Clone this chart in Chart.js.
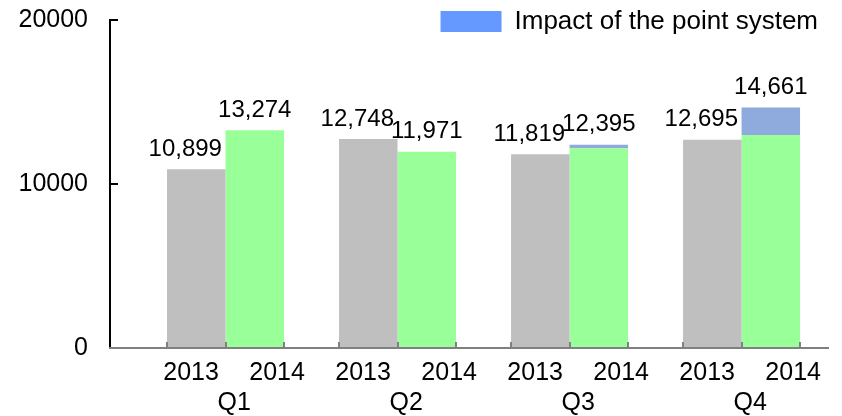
<!DOCTYPE html>
<html>
<head>
<meta charset="utf-8">
<script src="https://cdn.jsdelivr.net/npm/chart.js@4.4.1/dist/chart.umd.min.js"></script>
<style>
  html, body { margin: 0; padding: 0; background: #ffffff; }
  #wrap { width: 842px; height: 416px; position: relative; }
</style>
</head>
<body>
<div id="wrap"><canvas id="c"></canvas></div>
<script>
// ---- data ----
const quarters = ['Q1', 'Q2', 'Q3', 'Q4'];
const years = ['2013', '2014'];
const sales2013 = [10899, 12748, 11819, 12695];
const base2014 = [13274, 11971, 12180, 12990];
const impact2014 = [0, 0, 215, 1671];
const yTicks = [0, 10000, 20000];
const legendLabel = 'Impact of the point system';

// ---- style ----
const FONT = "'Liberation Sans', Arial, Helvetica, sans-serif";
const GROUP = 0.68;            // categoryPercentage
const X_MIN = 0.3285, X_MAX = 4.5025;
const YEAR_LABEL_HALF = 0.25;  // year labels sit in half-quarter slots
const LABEL_SLOT_SHIFT = 0.05; // slot grid is nudged right of the bars
const LABEL_SHIFT_2013 = -11;
const LABEL_RAISE = 20;
const LEGEND_RAISE = 21.5;

const pos = quarters.map((q, i) => i + 1);
const pts = arr => arr.map((v, i) => ({ x: pos[i], y: v }));
const fmt = v => v.toLocaleString('en-US');

// tick list for the label axis: bar edges carry tick marks, slots carry labels
const xlTicks = [];
pos.forEach((p, i) => {
  const half = GROUP / 2;
  xlTicks.push({ value: p - half, label: '', mark: true });
  xlTicks.push({ value: p - YEAR_LABEL_HALF + LABEL_SLOT_SHIFT, label: years[0], mark: false });
  xlTicks.push({ value: p, label: '', mark: true });
  xlTicks.push({ value: p + LABEL_SLOT_SHIFT, label: ['', quarters[i]], mark: false });
  xlTicks.push({ value: p + YEAR_LABEL_HALF + LABEL_SLOT_SHIFT, label: years[1], mark: false });
  xlTicks.push({ value: p + half, label: '', mark: true });
});
xlTicks.sort((a, b) => a.value - b.value);

const valueLabels = {
  id: 'valueLabels',
  afterDatasetsDraw(chart) {
    const ctx = chart.ctx;
    const m0 = chart.getDatasetMeta(0);
    const m2 = chart.getDatasetMeta(2);
    ctx.save();
    ctx.font = '24px ' + FONT;
    ctx.fillStyle = '#000000';
    ctx.textAlign = 'center';
    ctx.textBaseline = 'middle';
    quarters.forEach((q, i) => {
      const a = m0.data[i];
      ctx.fillText(fmt(sales2013[i]), a.x + LABEL_SHIFT_2013, a.y - LABEL_RAISE);
      const b = m2.data[i];
      ctx.fillText(fmt(base2014[i] + impact2014[i]), b.x, b.y - LABEL_RAISE);
    });
    ctx.restore();
  }
};

const legendPlace = {
  id: 'legendPlace',
  afterLayout(chart) {
    const lg = chart.legend, ca = chart.chartArea;
    if (!lg) return;
    const w = lg.width, h = lg.height;
    lg.left = ca.right - w; lg.right = ca.right;
    lg.top = ca.top - LEGEND_RAISE; lg.bottom = lg.top + h;
  }
};

Chart.defaults.font.family = FONT;
Chart.defaults.color = '#000000';

new Chart(document.getElementById('c'), {
  type: 'bar',
  data: {
    datasets: [
      { label: years[0], data: pts(sales2013), backgroundColor: '#BFBFBF', stack: 'a' },
      { label: years[1], data: pts(base2014), backgroundColor: '#99FF99', stack: 'b' },
      { label: legendLabel, data: pts(impact2014), backgroundColor: '#8FAADC', stack: 'b' }
    ]
  },
  options: {
    responsive: true,
    maintainAspectRatio: false,
    animation: false,
    events: [],
    datasets: { bar: { barPercentage: 1, categoryPercentage: GROUP, borderWidth: 0 } },
    layout: { padding: { top: 20, right: 14, left: 0, bottom: 0 } },
    scales: {
      x: {
        type: 'linear', min: X_MIN, max: X_MAX, display: false, offset: false,
        grid: { offset: false },
        afterBuildTicks: s => { s.ticks = pos.map(v => ({ value: v })); }
      },
      xl: {
        type: 'linear', axis: 'x', position: 'bottom', min: X_MIN, max: X_MAX, offset: false,
        afterBuildTicks: s => { s.ticks = xlTicks.map(t => ({ value: t.value })); },
        afterFit: s => { s.height = 68; s.paddingLeft = 0; s.paddingRight = 0; },
        border: { display: true, color: '#808080', width: 2, z: 1 },
        grid: {
          z: 1, offset: false, drawOnChartArea: false, drawTicks: true, tickLength: -6, lineWidth: 2,
          color: ctx => (xlTicks[ctx.index] && xlTicks[ctx.index].mark) ? '#808080' : 'rgba(0,0,0,0)'
        },
        ticks: {
          autoSkip: false, maxRotation: 0, minRotation: 0, padding: 16,
          color: '#000000', font: { size: 25 },
          callback: (v, i) => xlTicks[i] ? xlTicks[i].label : ''
        }
      },
      y: {
        min: 0, max: 20000,
        afterBuildTicks: s => { s.ticks = yTicks.map(v => ({ value: v })); },
        afterFit: s => { s.width = 110; s.paddingTop = 0; s.paddingBottom = 0; },
        border: { display: true, color: '#000000', width: 2 },
        grid: {
          drawOnChartArea: false, drawTicks: true, tickLength: -8, lineWidth: 2,
          color: ctx => (ctx.tick && ctx.tick.value === 0) ? 'rgba(0,0,0,0)' : '#000000'
        },
        ticks: { padding: 30, color: '#000000', font: { size: 25 }, callback: v => String(v) }
      }
    },
    plugins: {
      tooltip: { enabled: false },
      legend: {
        position: 'chartArea', align: 'start',
        labels: {
          boxWidth: 61, boxHeight: 21, padding: 10, color: '#000000', font: { size: 26 },
          filter: item => item.datasetIndex === 2,
          generateLabels: chart => {
            const items = Chart.defaults.plugins.legend.labels.generateLabels(chart);
            items.forEach(it => { if (it.datasetIndex === 2) { it.fillStyle = '#6699FF'; it.strokeStyle = '#6699FF'; it.lineWidth = 0; } });
            return items;
          }
        }
      }
    }
  },
  plugins: [valueLabels, legendPlace]
});
</script>
</body>
</html>
